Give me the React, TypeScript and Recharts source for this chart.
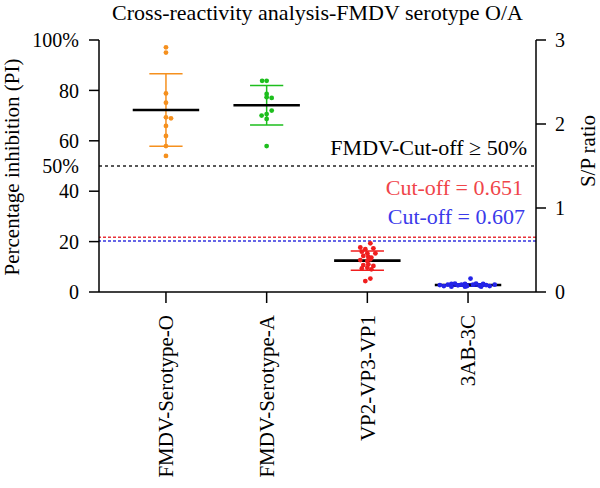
import React from "react";
import { ComposedChart, Scatter, XAxis, YAxis, ReferenceLine, Label } from "recharts";

const FONT = "'Liberation Serif', 'Times New Roman', serif";

const categories = ["FMDV-Serotype-O", "FMDV-Serotype-A", "VP2-VP3-VP1", "3AB-3C"];

// percentage inhibition, left axis
const serotypeO = [97.1, 95.0, 78.8, 75.1, 69.3, 68.9, 65.9, 61.9, 57.9, 54.0];
const serotypeOJitter = [0, 0, 0, 0, 0, 0.05, 0, 0, 0, 0];
const serotypeA = [83.8, 83.8, 78.6, 77.3, 77.0, 72.0, 70.6, 70.0, 68.7, 57.9];
const serotypeAJitter = [-0.045, 0, 0, 0, 0.05, 0.05, 0, -0.05, 0, 0];

// S/P ratio, right axis
const vp = [
  0.58, 0.53, 0.51, 0.52, 0.48, 0.46, 0.46, 0.43, 0.42, 0.41, 0.39,
  0.38, 0.37, 0.33, 0.32, 0.31, 0.29, 0.28, 0.27, 0.16, 0.13,
];
const vpJitter = [
  0.03, -0.07, -0.02, 0.06, -0.055, 0, 0.08, -0.04, 0.01, 0.04, 0.03,
  -0.07, 0, 0.01, -0.04, 0.06, 0, -0.055, 0.04, 0.03, -0.02,
];
const ab = [
  0.083, 0.071, 0.087, 0.095, 0.1, 0.079, 0.087, 0.095, 0.071, 0.16,
  0.087, 0.1, 0.075, 0.095, 0.083, 0.071, 0.087, 0.063, 0.063, 0.063,
];
const abJitter = [
  -0.28, -0.24, -0.2, -0.165, -0.13, -0.1, -0.065, -0.03, -0.01, 0.025,
  0.05, 0.08, 0.115, 0.15, 0.18, 0.215, 0.265, -0.165, -0.03, 0.13,
];

const groupMean = [72.2, 74.1, 0.373, 0.083];
const groupSd = [14.4, 7.8, 0.115, 0.015];

const piTicks = [0, 20, 40, 60, 80, 100];
const spTicks = [0, 1, 2, 3];
const piCutoff = 50;
const vpCutoff = 0.651;
const abCutoff = 0.607;

const colors = ["#F5901E", "#1DBE1D", "#F01E1E", "#2424E8"];

const toPoints = (vals: number[], jit: number[], idx: number) =>
  vals.map((v, i) => ({ x: idx + jit[i], y: v }));

const dot = (fill: string) => (p: any) => <circle cx={p.cx} cy={p.cy} r={2.4} fill={fill} />;

function CategoryTick(props: any) {
  const { x, y, payload } = props;
  return (
    <text
      x={x}
      y={y}
      dy="0.35em"
      transform={`rotate(-90, ${x}, ${y})`}
      textAnchor="end"
      fontSize={21}
      fontFamily={FONT}
      fill="#000"
    >
      {categories[payload.value]}
    </text>
  );
}

function PiCutoffLabel(props: any) {
  const { x = 99, y = 166, width = 437 } = props.viewBox ?? {};
  return (
    <g fontFamily={FONT} fill="#000">
      <text x={x - 20} y={y} dy="0.35em" textAnchor="end" fontSize={20}>
        50%
      </text>
      <text x={x + width - 9} y={y - 11} textAnchor="end" fontSize={22}>
        FMDV-Cut-off ≥ 50%
      </text>
    </g>
  );
}

const cutoffLabel = (text: string, color: string, dx: number, dy: number) => (props: any) => {
  const { x = 99, y = 0, width = 437 } = props.viewBox ?? {};
  return (
    <text x={x + width - dx} y={y - dy} textAnchor="end" fontSize={22} fontFamily={FONT} fill={color}>
      {text}
    </text>
  );
};

export default function App() {
  const axisLine = { stroke: "#000", strokeWidth: 1.5 };
  return (
    <div style={{ position: "absolute", left: 0, top: 0, width: 600, height: 488, background: "#fff" }}>
      <ComposedChart width={600} height={488} margin={{ top: 40, right: 0, bottom: 0, left: 0 }}>
        <XAxis
          type="number"
          dataKey="x"
          domain={[-0.665, 3.675]}
          ticks={[0, 1, 2, 3]}
          allowDataOverflow
          height={196}
          axisLine={axisLine}
          tickLine={axisLine}
          tickSize={11}
          tickMargin={12}
          tick={(p: any) => <CategoryTick {...p} />}
        />
        <YAxis
          yAxisId="pi"
          type="number"
          dataKey="y"
          domain={[0, 100]}
          ticks={piTicks}
          allowDataOverflow
          width={99}
          axisLine={axisLine}
          tickLine={axisLine}
          tickSize={10}
          tickMargin={10}
          tick={{ fontSize: 20, fill: "#000", fontFamily: FONT }}
          tickFormatter={(v: number) => (v === 100 ? "100%" : String(v))}
        >
          <Label
            content={(p: any) => {
              const vb = p.viewBox ?? { y: 40, height: 252 };
              return (
                <text
                  transform="rotate(-90)"
                  x={-(vb.y + vb.height / 2) - 1}
                  y={19}
                  textAnchor="middle"
                  fontSize={21}
                  fontFamily={FONT}
                  fill="#000"
                >
                  Percentage inhibition (PI)
                </text>
              );
            }}
          />
        </YAxis>
        <YAxis
          yAxisId="sp"
          orientation="right"
          type="number"
          dataKey="y"
          domain={[0, 3]}
          ticks={spTicks}
          allowDataOverflow
          width={64}
          axisLine={axisLine}
          tickLine={axisLine}
          tickSize={10}
          tickMargin={9}
          tick={{ fontSize: 20, fill: "#000", fontFamily: FONT }}
        >
          <Label
            content={() => (
              <text
                transform="rotate(-90)"
                x={-151}
                y={595}
                textAnchor="middle"
                fontSize={21}
                fontFamily={FONT}
                fill="#000"
              >
                S/P ratio
              </text>
            )}
          />
        </YAxis>

        <ReferenceLine
          yAxisId="pi"
          y={piCutoff}
          stroke="#222"
          strokeWidth={1.3}
          strokeDasharray="3 3"
          label={{ content: PiCutoffLabel }}
        />
        <ReferenceLine
          yAxisId="sp"
          y={vpCutoff}
          stroke="#E8333A"
          strokeWidth={1.4}
          strokeDasharray="3 2"
          label={{ content: cutoffLabel("Cut-off = 0.651", "#F0454A", 13, 42) }}
        />
        <ReferenceLine
          yAxisId="sp"
          y={abCutoff}
          stroke="#3535E0"
          strokeWidth={1.4}
          strokeDasharray="3 2"
          label={{ content: cutoffLabel("Cut-off = 0.607", "#3A3AEA", 11, 17) }}
        />

        <Scatter yAxisId="pi" dataKey="y" data={toPoints(serotypeO, serotypeOJitter, 0)} shape={dot(colors[0])} isAnimationActive={false} />
        <Scatter yAxisId="pi" dataKey="y" data={toPoints(serotypeA, serotypeAJitter, 1)} shape={dot(colors[1])} isAnimationActive={false} />
        <Scatter yAxisId="sp" dataKey="y" data={toPoints(vp, vpJitter, 2)} shape={dot(colors[2])} isAnimationActive={false} />
        <Scatter yAxisId="sp" dataKey="y" data={toPoints(ab, abJitter, 3)} shape={dot(colors[3])} isAnimationActive={false} />

        {groupMean.map((m, i) => {
          const axis = i < 2 ? "pi" : "sp";
          const sd = groupSd[i];
          const c = colors[i];
          return (
            <React.Fragment key={i}>
              <ReferenceLine yAxisId={axis} segment={[{ x: i, y: m - sd }, { x: i, y: m + sd }]} stroke={c} strokeWidth={1.5} />
              <ReferenceLine yAxisId={axis} segment={[{ x: i - 0.165, y: m + sd }, { x: i + 0.165, y: m + sd }]} stroke={c} strokeWidth={1.5} />
              <ReferenceLine yAxisId={axis} segment={[{ x: i - 0.165, y: m - sd }, { x: i + 0.165, y: m - sd }]} stroke={c} strokeWidth={1.5} />
              <ReferenceLine yAxisId={axis} segment={[{ x: i - 0.33, y: m }, { x: i + 0.33, y: m }]} stroke="#000" strokeWidth={2.6} />
            </React.Fragment>
          );
        })}
      </ComposedChart>
      <div
        style={{
          position: "absolute",
          left: 99,
          top: 0,
          width: 437,
          textAlign: "center",
          fontFamily: FONT,
          fontSize: 22,
          lineHeight: "26px",
          whiteSpace: "nowrap",
          color: "#000",
        }}
      >
        Cross-reactivity analysis-FMDV serotype O/A
      </div>
    </div>
  );
}
